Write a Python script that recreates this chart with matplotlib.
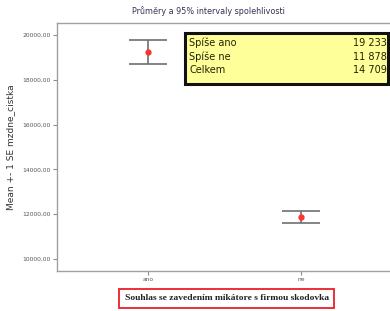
import matplotlib
matplotlib.use("Agg")
import matplotlib.pyplot as plt
from matplotlib.patches import Rectangle

categories = ["ano", "ne"]
means = [19233, 11878]
se = [535, 275]
yticks = [10000, 12000, 14000, 16000, 18000, 20000]
ytick_labels = ["10000,00", "12000,00", "14000,00", "16000,00", "18000,00", "20000,00"]
table_labels = ["Spíše ano", "Spíše ne", "Celkem"]
table_values = ["19 233", "11 878", "14 709"]

W, H = 390, 311
fig = plt.figure(figsize=(W / 100, H / 100), dpi=100)
ax = fig.add_axes([57 / W, 1 - 271 / H, (W - 57) / W, (271 - 23) / H])

gray = "#8c8c8c"
x = list(range(len(categories)))
ax.errorbar(x, means, yerr=se, fmt="none", ecolor="#707070", elinewidth=1.2,
            capsize=14, capthick=1.2)
ax.plot(x, means, "o", color="#ff3030", markersize=3.5, zorder=5)

ax.set_xlim(-0.595, 1.58)
ax.set_ylim(9464, 20536)
ax.set_yticks(yticks)
ax.set_yticklabels(ytick_labels)
ax.set_xticks(x)
ax.set_xticklabels(categories)
ax.tick_params(axis="both", labelsize=4.3, colors="#555555", length=3, width=0.8, pad=1.5)
ax.tick_params(axis="both", color=gray)
for s in ["left", "top", "bottom"]:
    ax.spines[s].set_color("#a0a0a0")
    ax.spines[s].set_linewidth(1.0)
ax.spines["right"].set_visible(False)

ax.set_ylabel("Mean +- 1 SE mzdne_cistka", fontsize=6.5, color="#333333", labelpad=5)

fig.text(208 / W, 1 - 11 / H, "Průměry a 95% intervaly spolehlivosti",
         ha="center", va="center", fontsize=5.8, color="#333355")

# x-axis label in red box
fig.text(227 / W, 1 - 298.5 / H, "Souhlas se zavedením mikátore s firmou skodovka",
         ha="center", va="center", fontsize=6.8, family="Liberation Serif",
         fontweight="bold", color="#222222")
fig.add_artist(Rectangle((119 / W, 1 - 308 / H), (334 - 119) / W, (308 - 289) / H,
                         transform=fig.transFigure, fill=False,
                         edgecolor="#e8202a", linewidth=1.3))

# yellow table box
fig.add_artist(Rectangle((185 / W, 1 - 84 / H), (388 - 185) / W, (84 - 33) / H,
                         transform=fig.transFigure, facecolor="#ffff99",
                         edgecolor="#111111", linewidth=2.2, zorder=6))
row_y = [43, 56.5, 70]
for lab, val, yy in zip(table_labels, table_values, row_y):
    fig.text(189 / W, 1 - yy / H, lab, ha="left", va="center", fontsize=7,
             color="#222200", zorder=7)
    fig.text(387 / W, 1 - yy / H, val, ha="right", va="center", fontsize=7,
             color="#222200", zorder=7)

fig.savefig("out.png", dpi=100)
